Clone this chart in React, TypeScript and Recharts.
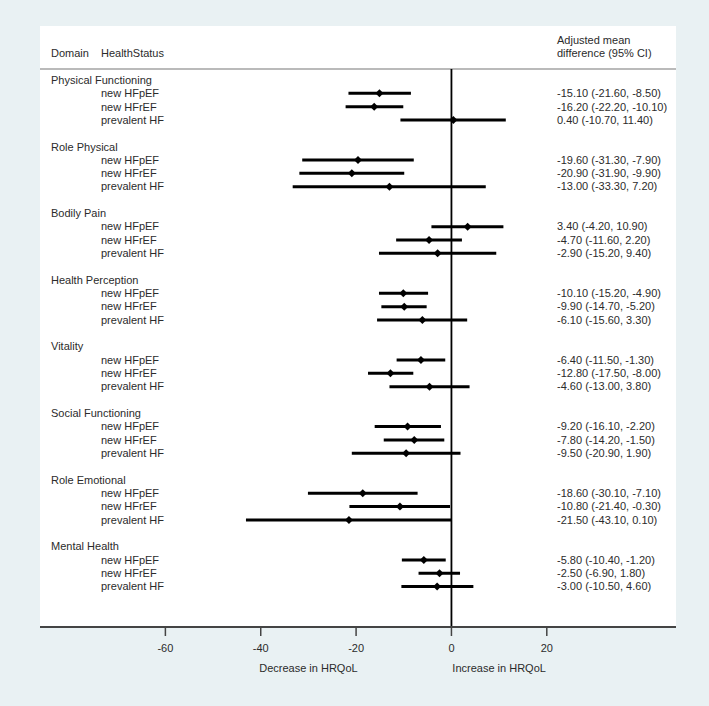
import React from 'react';
import { ScatterChart, Scatter, XAxis, YAxis, ErrorBar, ReferenceLine } from 'recharts';

const domains = [
  'Physical Functioning',
  'Role Physical',
  'Bodily Pain',
  'Health Perception',
  'Vitality',
  'Social Functioning',
  'Role Emotional',
  'Mental Health',
];
const statuses = ['new HFpEF', 'new HFrEF', 'prevalent HF'];

// adjusted mean difference, per domain: [new HFpEF, new HFrEF, prevalent HF]
const meanDiff = [
  [-15.1, -16.2, 0.4],
  [-19.6, -20.9, -13.0],
  [3.4, -4.7, -2.9],
  [-10.1, -9.9, -6.1],
  [-6.4, -12.8, -4.6],
  [-9.2, -7.8, -9.5],
  [-18.6, -10.8, -21.5],
  [-5.8, -2.5, -3.0],
];
const ciLower = [
  [-21.6, -22.2, -10.7],
  [-31.3, -31.9, -33.3],
  [-4.2, -11.6, -15.2],
  [-15.2, -14.7, -15.6],
  [-11.5, -17.5, -13.0],
  [-16.1, -14.2, -20.9],
  [-30.1, -21.4, -43.1],
  [-10.4, -6.9, -10.5],
];
const ciUpper = [
  [-8.5, -10.1, 11.4],
  [-7.9, -9.9, 7.2],
  [10.9, 2.2, 9.4],
  [-4.9, -5.2, 3.3],
  [-1.3, -8.0, 3.8],
  [-2.2, -1.5, 1.9],
  [-7.1, -0.3, 0.1],
  [-1.2, 1.8, 4.6],
];

const xTicks = [-60, -40, -20, 0, 20];
const directionTicks = [-30, 10];
const directionLabels = ['Decrease in HRQoL', 'Increase in HRQoL'];

// layout
const FONT = '"Liberation Sans", Arial, sans-serif';
const TEXT = '#2b2b2b';
const ROWS_PER_GROUP = 5;
const X_DOMAIN: [number, number] = [-86.3, 47.1];
const Y_DOMAIN: [number, number] = [-4.05, 41.03];
const SEP_Y = -0.825;
const HEAD_ROW = -2;
const HEAD_ROW_TOP = -3;
const TICK_SIZE = 9;
const TICK_MARGIN = 8;

const rowIndex = (g: number, r: number) => g * ROWS_PER_GROUP + 1 + r;

const points = meanDiff.flatMap((row, g) =>
  row.map((m, r) => ({
    x: m,
    y: rowIndex(g, r),
    err: [m - ciLower[g][r], ciUpper[g][r] - m],
  }))
);

const leftLabels: Record<number, { text: string; indent: boolean }> = {};
domains.forEach((d, g) => {
  leftLabels[g * ROWS_PER_GROUP] = { text: d, indent: false };
  statuses.forEach((s, r) => {
    leftLabels[rowIndex(g, r)] = { text: s, indent: true };
  });
});
const leftTicks = [HEAD_ROW, ...Object.keys(leftLabels).map(Number)];

const fmt = (v: number) => v.toFixed(2);
const rightLabels: Record<number, string> = {
  [HEAD_ROW_TOP]: 'Adjusted mean',
  [HEAD_ROW]: 'difference (95% CI)',
};
meanDiff.forEach((row, g) =>
  row.forEach((m, r) => {
    rightLabels[rowIndex(g, r)] = `${fmt(m)} (${fmt(ciLower[g][r])}, ${fmt(ciUpper[g][r])})`;
  })
);
const rightTicks = Object.keys(rightLabels).map(Number);

const textStyle = { fontFamily: FONT, fontSize: 11, fill: TEXT };

const LeftTick = (props: any) => {
  const { y, payload } = props;
  const v = payload.value;
  if (v === HEAD_ROW) {
    return (
      <g>
        <text x={51} y={y} dy="0.35em" {...textStyle}>Domain</text>
        <text x={101} y={y} dy="0.35em" {...textStyle}>HealthStatus</text>
      </g>
    );
  }
  const lab = leftLabels[v];
  if (!lab) return <g />;
  return (
    <text x={lab.indent ? 101 : 51} y={y} dy="0.35em" {...textStyle}>
      {lab.text}
    </text>
  );
};

const RightTick = (props: any) => {
  const { y, payload } = props;
  return (
    <text x={557} y={y} dy="0.35em" {...textStyle}>
      {rightLabels[payload.value]}
    </text>
  );
};

// numeric ticks get a tick mark; the two direction captions sit one line lower
const XTick = (props: any) => {
  const { x, y, payload } = props;
  const v = payload.value;
  const axisY = y - TICK_SIZE - TICK_MARGIN;
  const di = directionTicks.indexOf(v);
  if (di >= 0) {
    return (
      <text x={x} y={axisY + 45} textAnchor="middle" {...textStyle}>
        {directionLabels[di]}
      </text>
    );
  }
  return (
    <g>
      <line x1={x} x2={x} y1={axisY} y2={axisY + TICK_SIZE} stroke="#444" strokeWidth={1.5} />
      <text x={x} y={axisY + 25} textAnchor="middle" {...textStyle}>
        {v}
      </text>
    </g>
  );
};

const Diamond = (props: any) => {
  const { cx, cy } = props;
  const s = 4;
  return <polygon points={`${cx},${cy - s} ${cx + s},${cy} ${cx},${cy + s} ${cx - s},${cy}`} fill="#000" />;
};

export default function App() {
  return (
    <div style={{ position: 'absolute', left: 0, top: 0, width: 709, height: 706, background: '#e9f1f3' }}>
      <div style={{ position: 'absolute', left: 40, top: 26, width: 636, height: 601, background: '#fff' }} />
      <div style={{ position: 'absolute', left: 0, top: 0 }}>
        <ScatterChart width={709} height={706} margin={{ top: 26, right: 33, left: 40, bottom: 19 }}>
          <XAxis
            type="number"
            dataKey="x"
            domain={X_DOMAIN}
            allowDataOverflow
            ticks={[...xTicks, ...directionTicks].sort((a, b) => a - b)}
            interval={0}
            height={60}
            axisLine={{ stroke: '#444', strokeWidth: 2 }}
            tickLine={false}
            tickSize={TICK_SIZE}
            tickMargin={TICK_MARGIN}
            tick={<XTick />}
          />
          <YAxis
            type="number"
            dataKey="y"
            domain={Y_DOMAIN}
            allowDataOverflow
            reversed
            mirror
            width={80}
            ticks={leftTicks}
            interval={0}
            axisLine={false}
            tickLine={false}
            tick={<LeftTick />}
          />
          <YAxis
            yAxisId="r"
            orientation="right"
            type="number"
            domain={Y_DOMAIN}
            allowDataOverflow
            reversed
            mirror
            width={80}
            ticks={rightTicks}
            interval={0}
            axisLine={false}
            tickLine={false}
            tick={<RightTick />}
          />
          <ReferenceLine y={SEP_Y} stroke="#a3a3a3" strokeWidth={1.5} />
          <ReferenceLine
            segment={[
              { x: 0, y: SEP_Y },
              { x: 0, y: Y_DOMAIN[1] },
            ]}
            stroke="#000"
            strokeWidth={1.8}
          />
          <Scatter data={points} shape={<Diamond />} isAnimationActive={false}>
            <ErrorBar dataKey="err" direction="x" width={0} stroke="#000" strokeWidth={3} isAnimationActive={false} />
          </Scatter>
        </ScatterChart>
      </div>
    </div>
  );
}
